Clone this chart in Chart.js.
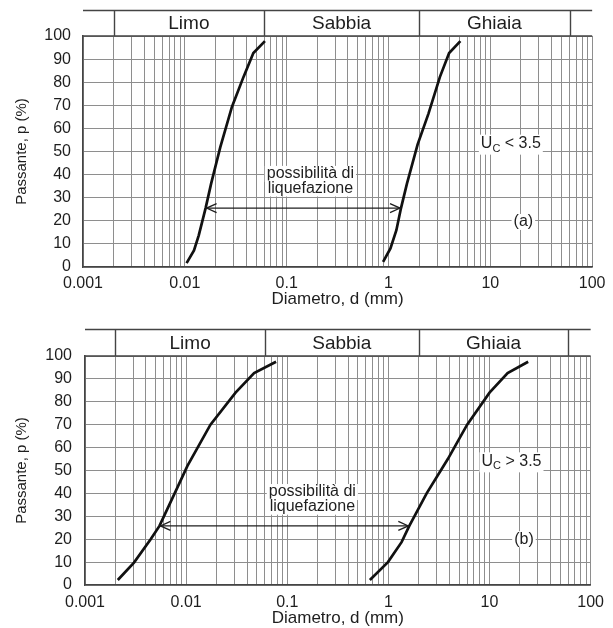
<!DOCTYPE html>
<html>
<head>
<meta charset="utf-8">
<script src="https://cdn.jsdelivr.net/npm/chart.js@4.4.1/dist/chart.umd.min.js"></script>
<style>
  html, body { margin: 0; padding: 0; background: #fff; }
  canvas { position: absolute; left: 0; }
  #chartA { top: 0; }
  #chartB { top: 310px; }
</style>
</head>
<body>
<canvas id="chartA" width="613" height="310"></canvas>
<canvas id="chartB" width="613" height="318"></canvas>
<script>
// ── Design tokens ────────────────────────────────────────────────
const FONT = "'Liberation Sans', Arial, Helvetica, sans-serif";
const INK = '#1e1e1e';
const GRID = '#8e8e8e';
const FRAME = '#444';

// ── Data ─────────────────────────────────────────────────────────
const xTickValues = [0.001, 0.01, 0.1, 1, 10, 100];
const xTickLabels = ['0.001', '0.01', '0.1', '1', '10', '100'];
const zoneNames = ['Limo', 'Sabbia', 'Ghiaia'];
const zoneBounds = [0.002, 0.06, 2, 60];

// (a) Uc < 3.5
const aFineD = [0.0104, 0.0123, 0.0137, 0.0160, 0.0181, 0.0223, 0.0290, 0.0377, 0.0471, 0.0612];
const aFineP = [1.7, 7.2, 13.7, 25.5, 36.0, 51.9, 69.3, 82.3, 92.6, 97.8];
const aCoarseD = [0.885, 1.045, 1.195, 1.327, 1.518, 1.93, 2.47, 3.20, 3.94, 5.08];
const aCoarseP = [2.2, 8.0, 15.9, 25.5, 36.1, 53.0, 66.4, 82.3, 92.6, 97.8];
const aArrowD = [0.0160, 1.327];
const aArrowP = [25.5, 25.5];

// (b) Uc > 3.5
const bFineD = [0.00211, 0.00305, 0.00446, 0.00545, 0.0077, 0.0103, 0.0174, 0.0308, 0.047, 0.0775];
const bFineP = [2.2, 9.8, 20.0, 25.8, 40.0, 52.0, 70.0, 84.0, 92.5, 97.5];
const bCoarseD = [0.656, 0.99, 1.35, 1.61, 2.39, 3.87, 6.01, 10.0, 15.1, 24.1];
const bCoarseP = [2.2, 10.0, 18.7, 25.8, 40.0, 55.0, 70.0, 84.0, 92.5, 97.5];
const bArrowD = [0.00545, 1.61];
const bArrowP = [25.8, 25.8];

const noteLines = ['possibilità di', 'liquefazione'];
const ucText = ['< 3.5', '> 3.5'];
const panelTags = ['(a)', '(b)'];
const xTitle = 'Diametro, d (mm)';
const yTitle = 'Passante, p (%)';

// ── Helpers ──────────────────────────────────────────────────────
const pts = (d, p) => d.map((x, i) => ({ x, y: p[i] }));

// una linea di griglia per ogni 1..9 × decade
function logGridTicks() {
    const out = [];
    for (let k = 0; k < xTickValues.length - 1; k++) {
        for (let m = 1; m <= 9; m++) out.push({ value: m * xTickValues[k] });
    }
    out.push({ value: xTickValues[xTickValues.length - 1] });
    return out;
}

function decadeLabel(v) {
    const i = xTickValues.findIndex(t => Math.abs(t - v) / t < 1e-6);
    return i >= 0 ? xTickLabels[i] : '';
}

function boxedText(ctx, text, cx, cy) {
    const w = ctx.measureText(text).width;
    ctx.fillStyle = '#fff';
    ctx.fillRect(cx - w / 2 - 2, cy - 8, w + 4, 16);
    ctx.fillStyle = INK;
    ctx.fillText(text, cx, cy);
}

// ── Plugin: fascia granulometrica, frecce, note ─────────────────
const decorPlugin = {
    id: 'decor',
    afterDraw(chart, args, o) {
        const { ctx, chartArea: ca, scales: { x, y } } = chart;
        ctx.save();

        // fascia in alto (Limo / Sabbia / Ghiaia)
        ctx.strokeStyle = FRAME;
        ctx.lineWidth = 1.4;
        ctx.beginPath();
        ctx.moveTo(ca.left, o.headerTop); ctx.lineTo(ca.right, o.headerTop);
        ctx.moveTo(ca.left, ca.top); ctx.lineTo(ca.right, ca.top);
        zoneBounds.forEach(b => {
            const px = Math.round(x.getPixelForValue(b)) + 0.5;
            ctx.moveTo(px, o.headerTop); ctx.lineTo(px, ca.top);
        });
        ctx.stroke();

        ctx.fillStyle = INK;
        ctx.font = `19px ${FONT}`;
        ctx.textAlign = 'center';
        ctx.textBaseline = 'middle';
        zoneNames.forEach((n, i) => {
            const cx = (x.getPixelForValue(zoneBounds[i]) + x.getPixelForValue(zoneBounds[i + 1])) / 2;
            ctx.fillText(n, cx, (o.headerTop + ca.top) / 2 + 1);
        });

        // punte delle frecce
        const arrow = chart.getDatasetMeta(2).data;
        if (arrow.length === 2) {
            const [p0, p1] = arrow;
            ctx.strokeStyle = INK;
            ctx.lineWidth = 1.3;
            ctx.beginPath();
            ctx.moveTo(p0.x + 11, p0.y - 4.5); ctx.lineTo(p0.x + 1, p0.y); ctx.lineTo(p0.x + 11, p0.y + 4.5);
            ctx.moveTo(p1.x - 11, p1.y - 4.5); ctx.lineTo(p1.x - 1, p1.y); ctx.lineTo(p1.x - 11, p1.y + 4.5);
            ctx.stroke();
        }

        // note
        ctx.font = `16px ${FONT}`;
        const nx = x.getPixelForValue(o.note.x);
        noteLines.forEach((t, i) => boxedText(ctx, t, nx, y.getPixelForValue(o.note.y[i])));

        boxedText(ctx, o.tag.text, x.getPixelForValue(o.tag.x), y.getPixelForValue(o.tag.y));

        // U_C < 3.5
        const ux = x.getPixelForValue(o.uc.x), uy = y.getPixelForValue(o.uc.y);
        ctx.font = `16px ${FONT}`;
        const wU = ctx.measureText('U').width;
        const rest = ' ' + o.uc.text;
        const wR = ctx.measureText(rest).width;
        ctx.font = `11px ${FONT}`;
        const wC = ctx.measureText('C').width;
        const total = wU + wC + wR;
        const sx = ux - total / 2;
        ctx.fillStyle = '#fff';
        ctx.fillRect(sx - 2, uy - 9, total + 4, 20);
        ctx.fillStyle = INK;
        ctx.textAlign = 'left';
        ctx.font = `16px ${FONT}`;
        ctx.fillText('U', sx, uy);
        ctx.font = `11px ${FONT}`;
        ctx.fillText('C', sx + wU, uy + 5);
        ctx.font = `16px ${FONT}`;
        ctx.fillText(rest, sx + wU + wC, uy);

        ctx.restore();
    }
};

// ── Chart builder ────────────────────────────────────────────────
function buildChart(canvasId, cfg) {
    const ctx = document.getElementById(canvasId).getContext('2d');
    const curve = data => ({
        data, borderColor: '#111', borderWidth: 2.7, pointRadius: 0, tension: 0, fill: false,
    });
    return new Chart(ctx, {
        type: 'line',
        data: {
            datasets: [
                curve(cfg.fine),
                curve(cfg.coarse),
                { data: cfg.arrow, borderColor: INK, borderWidth: 1.2, pointRadius: 0, fill: false },
            ],
        },
        options: {
            responsive: false,
            animation: false,
            layout: { padding: { top: cfg.top, right: cfg.right, left: 0, bottom: 0 } },
            plugins: {
                legend: { display: false },
                tooltip: { enabled: false },
                decor: cfg.decor,
            },
            scales: {
                x: {
                    type: 'logarithmic',
                    min: 0.001,
                    max: 100,
                    afterBuildTicks: s => { s.ticks = logGridTicks(); },
                    afterFit: s => { s.height = 43; },
                    grid: { color: GRID, lineWidth: 1, drawTicks: false },
                    border: { color: FRAME, width: 1.5 },
                    ticks: {
                        autoSkip: false,
                        maxRotation: 0,
                        padding: cfg.tickPad,
                        color: INK,
                        font: { family: FONT, size: 16, lineHeight: 1.1 },
                        callback: v => decadeLabel(v),
                    },
                    title: {
                        display: true,
                        text: xTitle,
                        color: INK,
                        font: { family: FONT, size: 17, lineHeight: 1 },
                        padding: { top: 0, bottom: cfg.titlePad },
                    },
                },
                y: {
                    min: 0,
                    max: 100,
                    afterFit: s => { s.width = cfg.left; },
                    grid: { color: GRID, lineWidth: 1, drawTicks: false },
                    border: { color: FRAME, width: 1.5 },
                    ticks: {
                        stepSize: 10,
                        padding: cfg.yPad,
                        color: INK,
                        font: { family: FONT, size: 16 },
                    },
                    title: {
                        display: true,
                        text: yTitle,
                        color: INK,
                        font: { family: FONT, size: 15 },
                        padding: { top: 13, bottom: 0 },
                    },
                },
            },
        },
        plugins: [decorPlugin],
    });
}

buildChart('chartA', {
    fine: pts(aFineD, aFineP),
    coarse: pts(aCoarseD, aCoarseP),
    arrow: pts(aArrowD, aArrowP),
    top: 36, right: 16, left: 83, tickPad: 7.5, titlePad: 2.5, yPad: 12,
    decor: {
        headerTop: 10.5,
        note: { x: 0.171, y: [40.3, 34.0] },
        uc: { x: 15.9, y: 53.4, text: ucText[0] },
        tag: { x: 21.1, y: 19.5, text: panelTags[0] },
    },
});

buildChart('chartB', {
    fine: pts(bFineD, bFineP),
    coarse: pts(bCoarseD, bCoarseP),
    arrow: pts(bArrowD, bArrowP),
    top: 46, right: 15, left: 85, tickPad: 9, titlePad: 1.5, yPad: 13,
    decor: {
        headerTop: 19.5,
        note: { x: 0.177, y: [40.6, 34.2] },
        uc: { x: 16.5, y: 54.0, text: ucText[1] },
        tag: { x: 21.9, y: 20.0, text: panelTags[1] },
    },
});
</script>
</body>
</html>
